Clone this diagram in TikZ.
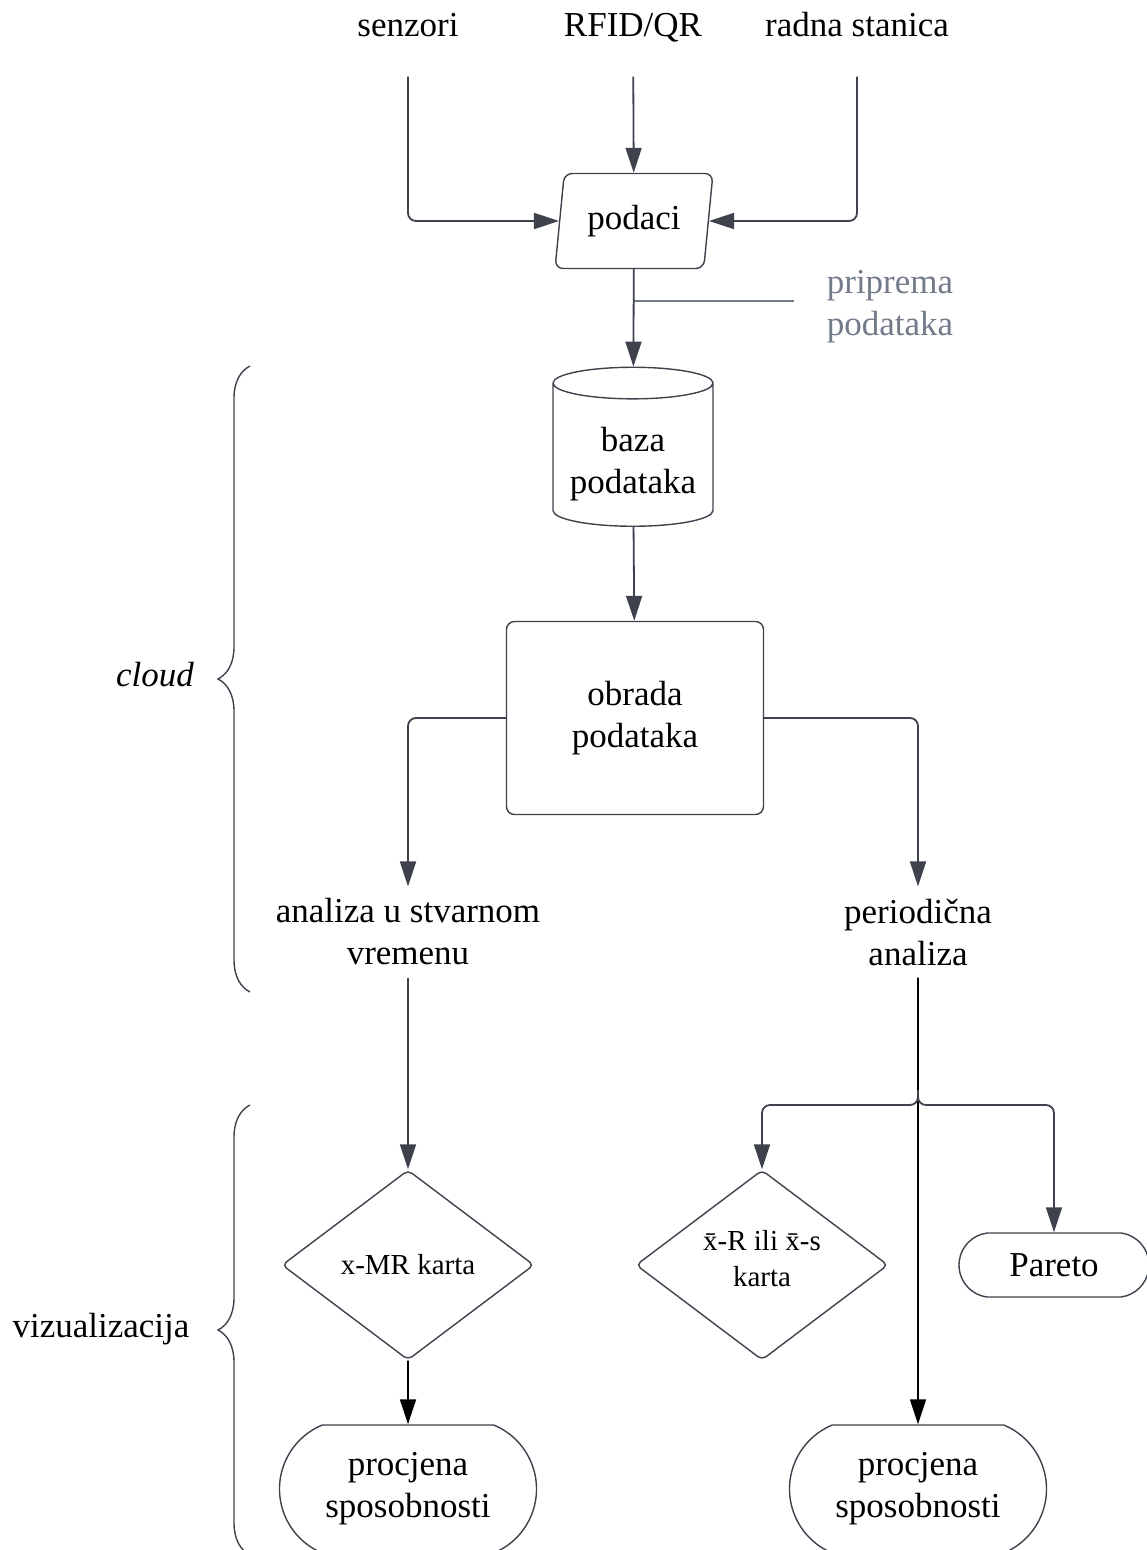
\documentclass[tikz,border=0pt]{standalone}
\usepackage{fontspec}
\setmainfont{Liberation Serif}
\usetikzlibrary{shapes.geometric,shapes.misc,arrows.meta,decorations.pathreplacing}
\definecolor{linegray}{HTML}{3D424C}
\definecolor{notegray}{HTML}{737A8A}
\newcommand{\lowtxt}[2]{\raisebox{#1}[0pt][0pt]{\begin{tabular}{@{}c@{}}#2\end{tabular}}}
\begin{document}
\begin{tikzpicture}[x=1pt,y=-1pt,
  txt/.style={font=\fontsize{35}{42}\selectfont, align=center, inner sep=0},
  src/.style={txt, text height=26pt, text depth=9pt},
  box/.style={txt, draw=linegray, line width=1.4pt, fill=white},
  dia/.style={box, diamond, aspect=1.33, minimum width=252pt, minimum height=190pt, rounded corners=5pt, font=\fontsize{29}{36}\selectfont},
  term/.style={box, rounded rectangle, minimum width=257pt, minimum height=128pt, rounded rectangle arc length=135},
  conn/.style={draw=linegray, line width=1.8pt, -{Triangle[length=25pt,width=16pt]}},
  connb/.style={draw=black, line width=1.8pt, -{Triangle[length=25pt,width=16pt]}},
  brc/.style={draw=linegray, line width=1.4pt, decorate, decoration={brace, amplitude=32pt}},
]
\useasboundingbox (0,0) rectangle (1147,1550);

\node[src] (src0) at (408,28){senzori};
\node[src] (src1) at (633,28){RFID/QR};
\node[src] (src2) at (857,28){radna stanica};
\node[box, trapezium, trapezium left angle=79, trapezium right angle=101, trapezium stretches, minimum width=158pt, minimum height=95pt, rounded corners=8pt] (d0) at (634,221){podaci};
\node[box, cylinder, shape border rotate=90, aspect=0.25, minimum width=160pt, minimum height=159pt] (db0) at (633,455){\lowtxt{-15pt}{baza\\podataka}};
\node[box, rounded corners=8pt, minimum width=257pt, minimum height=193pt] (p0) at (635,718){obrada\\podataka};
\node[txt, inner sep=12pt] (a0) at (408,932){analiza u stvarnom\\vremenu};
\node[txt, inner sep=12pt] (a1) at (918,932){periodična\\analiza};
\node[dia] (c0) at (408,1265){x-MR karta};
\node[dia] (c1) at (762,1265){\lowtxt{-3pt}{x̄-R ili x̄-s\\karta}};
\node[box, rounded rectangle, rounded rectangle arc length=165, minimum width=190pt, minimum height=64pt] (e2) at (1054,1265){Pareto};
\node[term] (e0) at (408,1489){procjena\\sposobnosti};
\node[term] (e1) at (918,1489){procjena\\sposobnosti};

% note
\node[txt, text=notegray] (n0) at (890,307){priprema\\podataka};
\coordinate (n0a) at (633,301);
\draw[notegray, line width=1.4pt, shorten >=33pt] (n0a) -- (n0.west |- n0a);

% braces
\node[txt, font=\fontsize{35}{42}\selectfont\itshape] (l0) at (155,675){cloud};
\node[txt] (l1) at (101,1329){vizualizacija};
\draw[brc] (250,992) -- (250,366);
\draw[brc] (250,1555) -- (250,1105);

\draw[conn, rounded corners=8pt, shorten <=31pt] (src0) |- (d0);
\draw[conn, shorten <=31pt] (src1) -- (d0);
\draw[conn, rounded corners=8pt, shorten <=31pt] (src2) |- (d0);
\draw[conn] (d0) -- (db0);
\draw[conn] (db0) -- (p0);
\draw[conn, rounded corners=8pt] (p0.west) -| (a0);
\draw[conn, rounded corners=8pt] (p0.east) -| (a1);
\draw[conn] (a0) -- (c0);
\draw[connb] (c0) -- (e0);
\draw[connb] (a1) -- (e1);

\coordinate (b0) at (918,1090);
\coordinate (b1) at (762,1105);
\coordinate (b2) at (1054,1105);
\draw[conn, rounded corners=8pt] (b0) |- (b1) -- (c1);
\draw[conn, rounded corners=8pt] (b0) |- (b2) -- (e2);

\end{tikzpicture}
\end{document}
